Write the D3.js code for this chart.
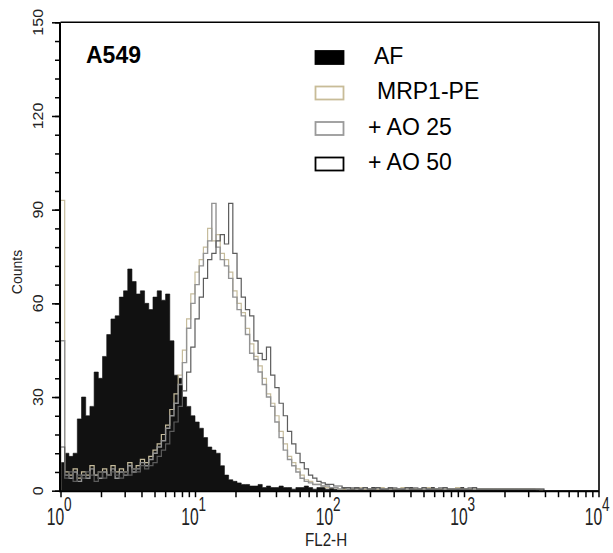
<!DOCTYPE html>
<html>
<head>
<meta charset="utf-8">
<script src="https://cdn.jsdelivr.net/npm/d3@7/dist/d3.min.js"></script>
<style>
  html, body { margin: 0; padding: 0; background: #fff; }
  svg { display: block; font-family: "Liberation Sans", Arial, sans-serif; }
</style>
</head>
<body>
<svg id="chart" width="613" height="553"></svg>
<script>
// Histogram channels: 32 channels per decade over 10^0 .. 10^4 (128 channels)
const channelsPerDecade = 32;

// Autofluorescence (filled)
const afCounts = [
  9,12,11,12,23,30,24,27,38,36,
  43,50,55,56,62,64,71,67,63,64,
  60,58,62,64,61,63,48,37,36,30,
  27,24,22,20,17,14,13,12,8,5,
  3.5,3,2.5,2,2,1.5,1.5,2,1,1.5,
  1,1,1.5,1,1,0.5,1,1,1.5,1,
  0.5,1,1,0.5,1,0.5,0.5,1,0.5,0.5,
  1,0.5,0.5,0.5,1,0.5,0.5,0.5,1,0.5,
  0.5,0.5,0.5,1,0.5,0.5,0.5,0.5,1,0.5,
  0.5,0.5,0.5,0.5,0.5,1,0.5,0.5,0.5,0.5,
  0.5,0.5,0.5,0.5,0.5,0.5,0.5,0.5,0.5,0.5,
  0.5,0.5,0.5,0,0,0,0,0,0,0,
  0,0,0,0,0,0,0,0
];

// MRP1-PE staining
const mrp1Counts = [
  93,6,5,7,4,6,5,8,5,6,
  7,5,8,6,7,6,9,7,8,10,
  9,11,13,15,18,21,26,31,37,45,
  55,63,70,74,78,84,80,82,76,74,
  70,64,60,57,52,47,43,40,36,31,
  28,24,19,15,11,9,7,5,3.5,3,
  2,2,1.5,1,1,1,0.5,0.5,1,0.5,
  0.5,1,0.5,0.5,0.5,0.5,1,0.5,0.5,0.5,
  0.5,1,0.5,0.5,0.5,0.5,0.5,1,0.5,0.5,
  0.5,0.5,0.5,0.5,1,0.5,0.5,0.5,0.5,0.5,
  0.5,0.5,0.5,0.5,0.5,0.5,0.5,0.5,0.5,0.5,
  0.5,0.5,0.5,0.5,0,0,0,0,0,0,
  0,0,0,0,0,0,0,0
];

// MRP1-PE + AO 25
const ao25Counts = [
  48,5,4,6,3,5,4,7,5,4,
  6,5,7,4,6,5,8,6,7,9,
  8,10,12,14,16,20,24,28,34,41,
  52,60,66,72,76,80,92,78,74,72,
  68,62,58,56,50,44,42,38,34,30,
  27,22,17,13,10,8,6,4,3,2.5,
  2,2,1.5,1.5,1,1,0.5,1,0.5,1,
  0.5,0.5,1,0.5,0.5,1,0.5,0.5,0.5,1,
  0.5,0.5,0.5,0.5,1,0.5,0.5,0.5,0.5,0.5,
  1,0.5,0.5,0.5,0.5,0.5,0.5,1,0.5,0.5,
  0.5,0.5,0.5,0.5,0.5,0.5,0.5,0.5,0.5,0.5,
  0.5,0.5,0.5,0.5,0.5,0,0,0,0,0,
  0,0,0,0,0,0,0,0
];

// MRP1-PE + AO 50
const ao50Counts = [
  14,4,6,3,5,4,6,5,3,6,
  4,5,6,5,4,6,5,7,6,8,
  7,8,9,11,13,15,19,22,27,32,
  38,46,55,62,68,74,76,80,82,79,
  92,76,68,62,58,56,48,44,42,46,
  37,33,28,24,19,15,12,9,7,5,
  4,3,2.5,2,2,1.5,1.5,1,1,0.5,
  1,0.5,1,0.5,0.5,1,0.5,0.5,1,0.5,
  0.5,0.5,1,0.5,0.5,0.5,1,0.5,0.5,0.5,
  0.5,1,0.5,0.5,0.5,0.5,0.5,0.5,1,0.5,
  0.5,0.5,0.5,0.5,0.5,0.5,0.5,0.5,0.5,0.5,
  0.5,0.5,0.5,0.5,0.5,0,0,0,0,0,
  0,0,0,0,0,0,0,0
];

const yTickLabels = [0, 30, 60, 90, 120, 150];
const xDecades = [0, 1, 2, 3, 4];
const legendLabels = ["AF", "MRP1-PE", "+ AO 25", "+ AO 50"];
const sampleLabel = "A549";
const xAxisTitle = "FL2-H";
const yAxisTitle = "Counts";

const svg = d3.select("#chart");

const plot = { left: 60.5, right: 598.5, top: 22.3, bottom: 490.7 };

const x = d3.scaleLog().domain([1, 1e4]).range([plot.left, plot.right]);
const y = d3.scaleLinear().domain([0, 150]).range([plot.bottom, plot.top]);

// channel i spans 10^(i/32) .. 10^((i+1)/32)
const toPoints = counts => {
  const pts = counts.map((c, i) => [Math.pow(10, i / channelsPerDecade), c]);
  pts.push([Math.pow(10, counts.length / channelsPerDecade), counts[counts.length - 1]]);
  return pts;
};

const g = svg.append("g");

// filled autofluorescence histogram
const area = d3.area()
  .curve(d3.curveStepAfter)
  .x(d => x(d[0]))
  .y0(y(0))
  .y1(d => y(d[1]));

g.append("path")
  .datum(toPoints(afCounts))
  .attr("d", area)
  .attr("fill", "#111")
  .attr("stroke", "#111")
  .attr("stroke-width", 0.6);

// outlined histograms
const line = d3.line()
  .curve(d3.curveStepAfter)
  .x(d => x(d[0]))
  .y(d => y(d[1]));

const outlines = [
  { counts: mrp1Counts, color: "#c6bc9c", width: 1.2 },
  { counts: ao25Counts, color: "#939393", width: 1.4 },
  { counts: ao50Counts, color: "#5c5c5c", width: 1.2 }
];

outlines.forEach(s => {
  const pts = toPoints(s.counts);
  pts.unshift([pts[0][0], 0]);
  g.append("path")
    .datum(pts)
    .attr("d", line)
    .attr("fill", "none")
    .attr("stroke", s.color)
    .attr("stroke-width", s.width)
    .attr("stroke-linejoin", "miter");
});

// frame (top and right)
svg.append("path")
  .attr("d", d3.line()([[plot.left, plot.top], [plot.right + 0.5, plot.top], [plot.right + 0.5, plot.bottom]]))
  .attr("fill", "none")
  .attr("stroke", "#000")
  .attr("stroke-width", 1.6);

// y axis: minor ticks every 6 counts, labels every 30
const yAxis = d3.axisLeft(y)
  .tickValues(d3.range(0, 151, 6))
  .tickSize(5)
  .tickFormat("");
const yAxisG = svg.append("g")
  .attr("transform", `translate(${plot.left - 0.5},0)`)
  .call(yAxis);
yAxisG.select(".domain").attr("stroke-width", 2).attr("d", `M0,${plot.top}V${plot.bottom + 1}`);
yAxisG.selectAll(".tick line").attr("stroke-width", 1.5);

svg.append("g")
  .attr("transform", `translate(${plot.left - 0.5},0)`)
  .call(d3.axisLeft(y).tickValues(yTickLabels).tickSize(8).tickFormat(""))
  .call(a => a.select(".domain").remove())
  .selectAll(".tick line").attr("stroke-width", 1.5);

svg.append("g").selectAll("text")
  .data(yTickLabels)
  .join("text")
  .attr("transform", d => `translate(43,${y(d)}) rotate(-90) scale(1,0.95)`)
  .attr("text-anchor", "middle")
  .attr("font-size", 16)
  .attr("fill", "#222")
  .text(d => d);

// x axis: log ticks 1..9 per decade
const xTickVals = [];
xDecades.forEach(dec => {
  if (dec < 4) {
    d3.range(1, 10).forEach(m => xTickVals.push(m * Math.pow(10, dec)));
  } else {
    xTickVals.push(Math.pow(10, dec));
  }
});
const xAxisG = svg.append("g")
  .attr("transform", `translate(0,${plot.bottom + 0.5})`)
  .call(d3.axisBottom(x).tickValues(xTickVals).tickSize(6).tickFormat(""));
xAxisG.select(".domain").attr("stroke-width", 2).attr("d", `M${plot.left - 1.5},0H${plot.right + 1}`);
xAxisG.selectAll(".tick line").attr("stroke-width", 1.5);

// decade labels "10" with superscript exponent
const xLab = svg.append("g").selectAll("g")
  .data(xDecades)
  .join("g")
  .attr("transform", d => `translate(${x(Math.pow(10, d))},0)`);
xLab.append("text")
  .attr("transform", "translate(-5,524.5) scale(0.68,1)")
  .attr("text-anchor", "middle")
  .attr("font-size", 23)
  .attr("fill", "#222")
  .text("10");
xLab.append("text")
  .attr("transform", "translate(3.5,510.5) scale(0.68,1)")
  .attr("text-anchor", "start")
  .attr("font-size", 20)
  .attr("fill", "#222")
  .text(d => d);

svg.append("text")
  .attr("transform", "translate(326,546) scale(0.8,1)")
  .attr("text-anchor", "middle")
  .attr("font-size", 19)
  .attr("fill", "#222")
  .text(xAxisTitle);

svg.append("text")
  .attr("transform", "translate(22,272) rotate(-90)")
  .attr("text-anchor", "middle")
  .attr("font-size", 14)
  .attr("fill", "#222")
  .text(yAxisTitle);

// sample name
svg.append("text")
  .attr("x", 86)
  .attr("y", 63)
  .attr("font-size", 23)
  .attr("font-weight", "bold")
  .attr("fill", "#000")
  .text(sampleLabel);

// legend
const legendStyles = [
  { fill: "#000", stroke: "#000" },
  { fill: "none", stroke: "#c8bc98" },
  { fill: "none", stroke: "#9a9a9a" },
  { fill: "none", stroke: "#000" }
];
const legendTextX = [374, 377, 368, 368];
const leg = svg.append("g").selectAll("g")
  .data(legendLabels)
  .join("g")
  .attr("transform", (d, i) => `translate(0,${i * 35.5})`);
leg.append("rect")
  .attr("x", 315.5)
  .attr("y", 51)
  .attr("width", 28)
  .attr("height", 13)
  .attr("fill", (d, i) => legendStyles[i].fill)
  .attr("stroke", (d, i) => legendStyles[i].stroke)
  .attr("stroke-width", 1.8);
leg.append("text")
  .attr("x", (d, i) => legendTextX[i])
  .attr("y", 63.5)
  .attr("font-size", 23)
  .attr("fill", "#000")
  .text(d => d);
</script>
</body>
</html>
